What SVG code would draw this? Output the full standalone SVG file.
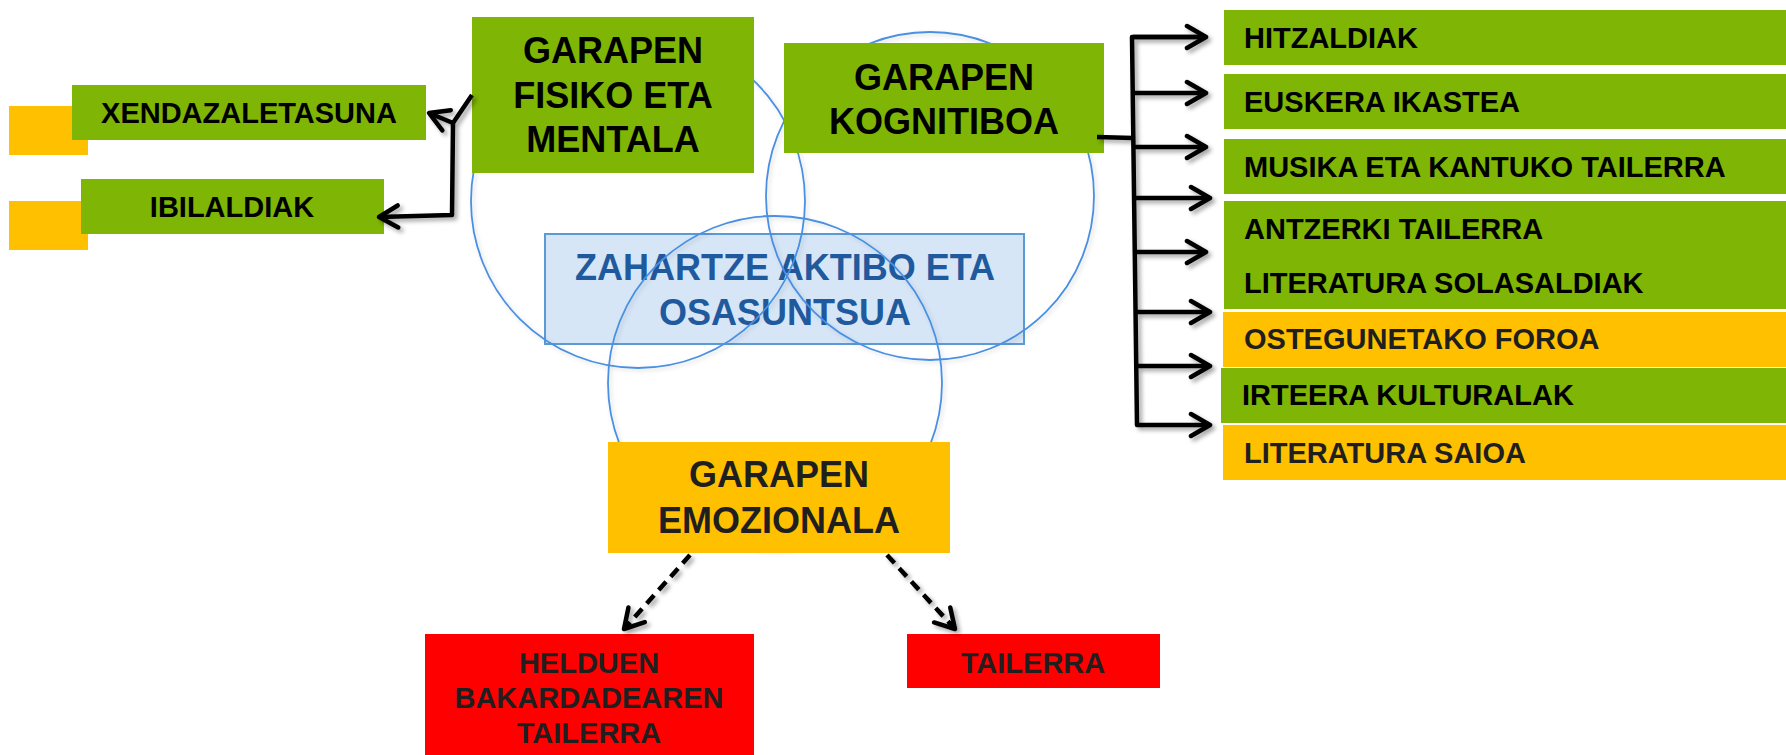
<svg xmlns="http://www.w3.org/2000/svg" width="1786" height="755" viewBox="0 0 1786 755">
<style>
.g{fill:#7fb505}
.o{fill:#ffc000}
.r{fill:#ff0000}
.t{font-family:"Liberation Sans",Arial,sans-serif;font-weight:bold;fill:#000}
.big{font-size:36px;text-anchor:middle}
.sm{font-size:29px}
.mid{text-anchor:middle}
.dk{fill:#1f1f1f}
.circ{fill:none;stroke:#4a90e2;stroke-width:1.8}
.ln{fill:none;stroke:#000;stroke-width:4.5;stroke-linejoin:round}
.dash{fill:none;stroke:#000;stroke-width:4.5;stroke-dasharray:11 7}
</style>
<defs>
<filter id="sh" x="-20%" y="-20%" width="140%" height="140%">
<feDropShadow dx="3" dy="3" stdDeviation="2" flood-color="#000" flood-opacity="0.35"/>
</filter>
<filter id="csh" x="-10%" y="-10%" width="120%" height="120%">
<feDropShadow dx="2" dy="2" stdDeviation="2" flood-color="#000" flood-opacity="0.15"/>
</filter>
<marker id="ah" viewBox="-24 -14 28 28" refX="0" refY="0" markerWidth="28" markerHeight="28" markerUnits="userSpaceOnUse" orient="auto">
<path d="M-19,-11 L0,0 L-19,11" fill="none" stroke="#000" stroke-width="4.5" stroke-linecap="round" stroke-linejoin="round"/>
</marker>
</defs>
<rect width="1786" height="755" fill="#fff"/>

<g id="center">
<rect x="545" y="234" width="479" height="110" fill="#d6e6f7" stroke="#5b9bd5" stroke-width="2"/>
<text class="t big" x="785" y="280" style="fill:#1f5a9e">ZAHARTZE AKTIBO ETA</text>
<text class="t big" x="785" y="325" style="fill:#1f5a9e">OSASUNTSUA</text>
</g>

<g id="circles" filter="url(#csh)">
<circle class="circ" cx="638" cy="201" r="167"/>
<circle class="circ" cx="930" cy="196" r="164"/>
<circle class="circ" cx="775" cy="383" r="167"/>
</g>

<g id="fisiko">
<rect class="g" x="472" y="17" width="282" height="156"/>
<text class="t big" x="613" y="63">GARAPEN</text>
<text class="t big" x="613" y="108">FISIKO ETA</text>
<text class="t big" x="613" y="152">MENTALA</text>
</g>

<g id="kognitiboa">
<rect class="g" x="784" y="43" width="320" height="110"/>
<text class="t big" x="944" y="90">GARAPEN</text>
<text class="t big" x="944" y="134">KOGNITIBOA</text>
</g>

<g id="emozionala">
<rect class="o" x="608" y="442" width="342" height="111"/>
<text class="t big dk" x="779" y="487">GARAPEN</text>
<text class="t big dk" x="779" y="533">EMOZIONALA</text>
</g>

<g id="xendazaletasuna">
<rect class="o" x="9" y="106" width="79" height="49"/>
<rect class="g" x="72" y="85" width="354" height="55"/>
<text class="t sm mid" x="249" y="123">XENDAZALETASUNA</text>
</g>

<g id="ibilaldiak">
<rect class="o" x="9" y="201" width="79" height="49"/>
<rect class="g" x="81" y="179" width="303" height="55"/>
<text class="t sm mid" x="232" y="217">IBILALDIAK</text>
</g>

<g id="hitzaldiak">
<rect class="g" x="1224" y="10" width="562" height="55"/>
<text class="t sm" x="1244" y="48">HITZALDIAK</text>
</g>
<g id="euskera">
<rect class="g" x="1224" y="74" width="562" height="55"/>
<text class="t sm" x="1244" y="112">EUSKERA IKASTEA</text>
</g>
<g id="musika">
<rect class="g" x="1224" y="139" width="562" height="55"/>
<text class="t sm" x="1244" y="177">MUSIKA ETA KANTUKO TAILERRA</text>
</g>
<g id="antzerki">
<rect class="g" x="1224" y="201" width="562" height="108"/>
<text class="t sm" x="1244" y="239">ANTZERKI TAILERRA</text>
<text class="t sm" x="1244" y="293">LITERATURA SOLASALDIAK</text>
</g>
<g id="ostegunetako">
<rect class="o" x="1223" y="312" width="563" height="55"/>
<text class="t sm dk" x="1244" y="349">OSTEGUNETAKO FOROA</text>
</g>
<g id="irteera">
<rect class="g" x="1221" y="368" width="565" height="55"/>
<text class="t sm" x="1242" y="405">IRTEERA KULTURALAK</text>
</g>
<g id="literatura-saioa">
<rect class="o" x="1223" y="425" width="563" height="55"/>
<text class="t sm dk" x="1244" y="463">LITERATURA SAIOA</text>
</g>

<g id="helduen">
<rect class="r" x="425" y="634" width="329" height="121"/>
<text class="t sm mid dk" x="589" y="673">HELDUEN</text>
<text class="t sm mid dk" x="589" y="708">BAKARDADEAREN</text>
<text class="t sm mid dk" x="589" y="743">TAILERRA</text>
</g>
<g id="tailerra">
<rect class="r" x="907" y="634" width="253" height="54"/>
<text class="t sm mid dk" x="1033" y="673">TAILERRA</text>
</g>

<g id="connectors" filter="url(#sh)">
<polyline class="ln" points="472,95 453,123 452,215 379,217" marker-end="url(#ah)"/>
<line class="ln" x1="453" y1="123" x2="429" y2="113" marker-end="url(#ah)"/>
<polyline class="ln" points="1097,137 1133,138"/>
<polyline class="ln" points="1206,37 1132,37 1137,425 1210,425" marker-end="url(#ah)"/>
<line class="ln" x1="1133" y1="37" x2="1206" y2="37" marker-end="url(#ah)"/>
<line class="ln" x1="1133" y1="93" x2="1206" y2="93" marker-end="url(#ah)"/>
<line class="ln" x1="1134" y1="147" x2="1206" y2="147" marker-end="url(#ah)"/>
<line class="ln" x1="1134" y1="198" x2="1210" y2="198" marker-end="url(#ah)"/>
<line class="ln" x1="1135" y1="252" x2="1206" y2="252" marker-end="url(#ah)"/>
<line class="ln" x1="1135" y1="312" x2="1210" y2="312" marker-end="url(#ah)"/>
<line class="ln" x1="1136" y1="366" x2="1210" y2="366" marker-end="url(#ah)"/>
<line class="dash" x1="690" y1="555" x2="624" y2="629" marker-end="url(#ah)"/>
<line class="dash" x1="887" y1="555" x2="955" y2="629" marker-end="url(#ah)"/>
</g>
</svg>
